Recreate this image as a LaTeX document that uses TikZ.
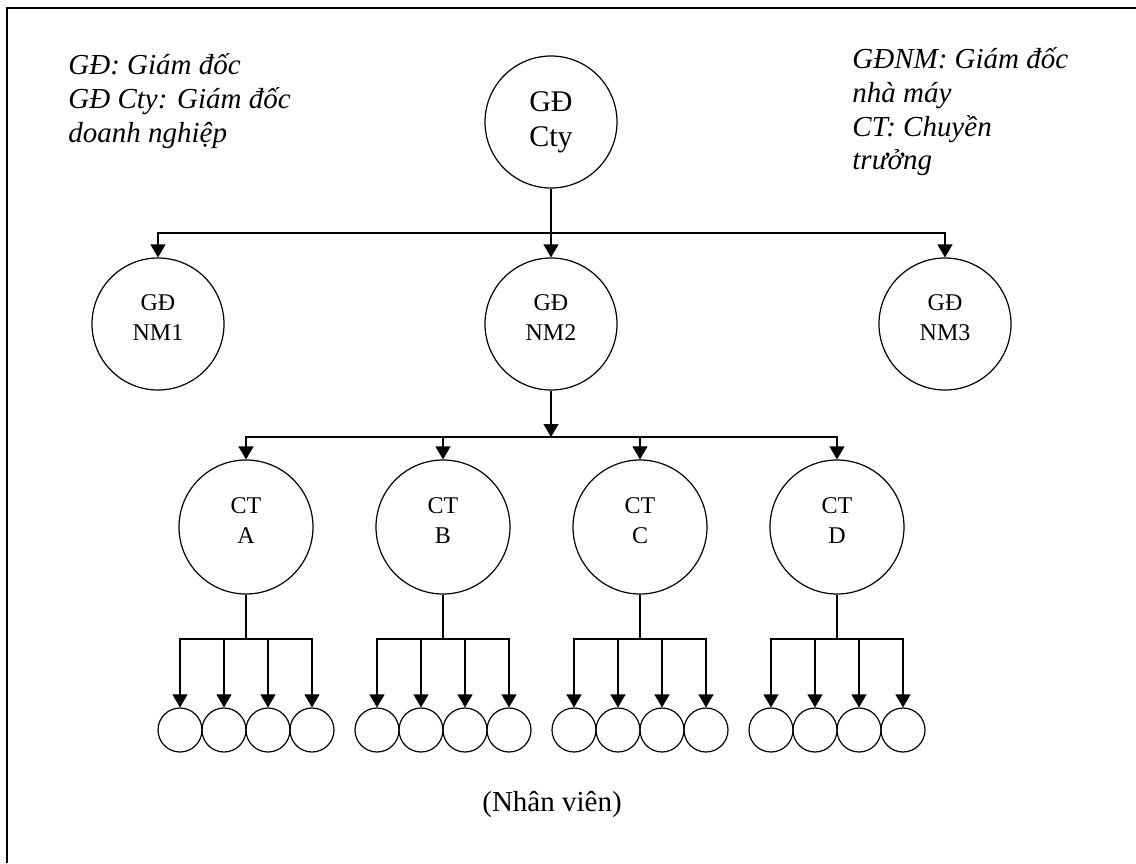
\documentclass[tikz,border=0pt]{standalone}
\usepackage{fontspec}
\setmainfont{Liberation Serif}
\usetikzlibrary{arrows.meta, calc}
\newcommand{\lowpad}{\rule[-6pt]{0pt}{6pt}}
\tikzset{
  org/circ/.style    = {circle, draw, line width=0.6pt, align=center, inner sep=0pt},
  org/head/.style    = {org/circ, minimum size=66pt, font=\fontsize{15}{17.5}\selectfont},
  org/plant/.style   = {org/circ, minimum size=66pt, font=\fontsize{12}{15}\selectfont},
  org/line/.style    = {org/circ, minimum size=67pt, font=\fontsize{12}{15}\selectfont},
  org/staff/.style   = {org/circ, minimum size=22pt},
  org/note/.style    = {align=left, inner sep=0pt, font=\fontsize{14.5}{16.9}\selectfont\itshape},
  org/caption/.style = {inner sep=0pt, font=\fontsize{14.5}{17}\selectfont},
  org/link/.style    = {line width=0.6pt},
  org/arrow/.style   = {-{Triangle[length=6.5pt, width=7.5pt]}, line width=0.6pt},
}
\begin{document}
\begin{tikzpicture}[x=0.5pt, y=-0.5pt]
  \useasboundingbox (0,0) rectangle (1136,863);
  % --- frame (only top and left edges are inside the page) ---
  \draw[line width=1pt] (6.5,863) |- (1136,7.5);
  % --- levels ---
  \def\yTop   {122}
  \def\yBarA  {233}
  \def\yPlant {324}
  \def\yBarB  {437}
  \def\yLine  {527}
  \def\yBarC  {639}
  \def\yStaff {730}
  % --- notes ---
  \node[org/note, anchor=north west] (noteL) at (68,53) {GĐ: Giám đốc\\GĐ Cty: Giám đốc\\doanh nghiệp};
  \node[org/note, anchor=north west] (noteR) at (852,47) {GĐNM: Giám đốc\\nhà máy\\CT: Chuyền\\trưởng};
  % --- company director ---
  \node[org/head] (cty) at (551,\yTop) {GĐ\\Cty};
  % --- plant directors ---
  \node[org/plant] (nm1) at (158,\yPlant) {GĐ\\NM1\lowpad};
  \node[org/plant] (nm2) at (551,\yPlant) {GĐ\\NM2\lowpad};
  \node[org/plant] (nm3) at (945,\yPlant) {GĐ\\NM3\lowpad};
  \coordinate (barA) at (551,\yBarA);
  \draw[org/link] (cty) -- (barA);
  \foreach \n in {nm1, nm2, nm3}
    \draw[org/arrow] (barA) -| (\n);
  % --- line leaders ---
  \coordinate (barB) at (551,\yBarB);
  \draw[org/arrow] (nm2) -- (barB);
  \foreach \n/\x/\t in {ctA/246/A, ctB/443/B, ctC/640/C, ctD/837/D} {
    \node[org/line] (\n) at (\x,\yLine) {CT\\\t\lowpad};
    \draw[org/arrow] (barB) -| (\n);
    % --- staff under each leader ---
    \coordinate (\n-bar) at (\x,\yBarC);
    \draw[org/link] (\n) -- (\n-bar);
    \foreach \k/\dx in {1/-66, 2/-22, 3/22, 4/66} {
      \node[org/staff] (\n-s\k) at (\x+\dx,\yStaff) {};
      \draw[org/arrow] (\n-bar) -| (\n-s\k);
    }
  }
  \node[org/caption] (staff) at (552,804) {(Nhân viên)};
\end{tikzpicture}
\end{document}
